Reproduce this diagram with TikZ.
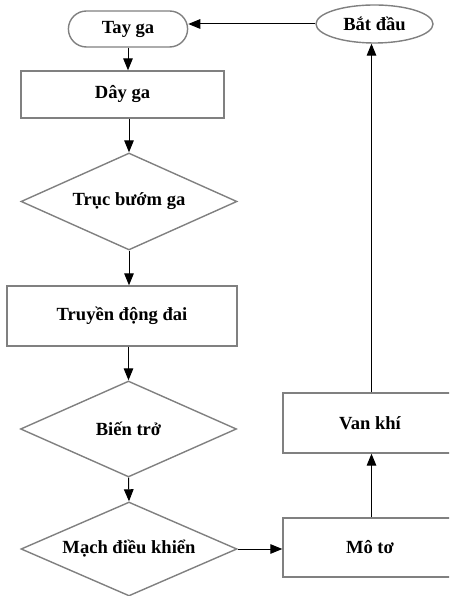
\documentclass[tikz,border=0pt]{standalone}
\usepackage{fontspec}
\setmainfont{Liberation Serif}
\usepackage{tikz}
\usetikzlibrary{arrows.meta,shapes.geometric,shapes.misc}

\begin{document}
\begin{tikzpicture}[x=1cm,y=1cm,font=\fontsize{13.2}{15}\selectfont\bfseries,
   box/.style={draw=gray,line width=1pt,inner sep=1pt},
   dia/.style={draw=gray,line width=1pt,diamond,inner sep=0pt,aspect=2.2},
   arr/.style={line width=0.7pt,-{Triangle[length=3mm,width=2.4mm]}}]
  \useasboundingbox (0,0) rectangle (11.225,14.9);
  \clip (0,0) rectangle (11.225,14.9);
  % left column
  \node[box,rounded rectangle,minimum width=3.05cm,minimum height=0.9cm]
        (tay) at (3.2,14.175) {Tay ga};
  \node[box,minimum width=5.075cm,minimum height=1.175cm] (day) at (3.0625,12.5375) {Dây ga};
  \node[dia,minimum width=5.4cm,minimum height=2.425cm]   (truc) at (3.225,9.8625) {Trục bướm ga};
  \node[box,minimum width=5.75cm,minimum height=1.5cm]    (truyen) at (3.05,7.0) {Truyền động đai};
  \node[dia,minimum width=5.4cm,minimum height=2.4cm]     (bien) at (3.2125,4.175) {Biến trở};
  \node[dia,minimum width=5.4cm,minimum height=2.35cm]    (mach) at (3.225,1.175) {Mạch điều khiển};
  % right column
  \node[box,ellipse,minimum width=2.925cm,minimum height=0.95cm] (bat) at (9.3625,14.3) {Bắt đầu};
  \node[box,minimum width=4.425cm,minimum height=1.5cm]   (van) at (9.2875,4.325) {};
  \node at (9.25,4.325) {Van khí};
  \node[box,minimum width=4.425cm,minimum height=1.475cm] (mo) at (9.2875,1.2125) {};
  \node at (9.25,1.2125) {Mô tơ};
  % arrows
  \draw[arr] (tay.south) -- (tay.south |- day.north);
  \draw[arr] (truc.north |- day.south) -- (truc.north);
  \draw[arr] (truc.south) -- (truc.south |- truyen.north);
  \draw[arr] (bien.north |- truyen.south) -- (bien.north);
  \draw[arr] (bien.south) -- (mach.north);
  \draw[arr] (mach.east) -- (mach.east -| mo.west);
  \draw[arr] (mo.north) -- (van.south);
  \draw[arr] (van.north) -- (van.north |- bat.south);
  \draw[arr] (bat.west) -- (bat.west -| tay.east);
\end{tikzpicture}
\end{document}
